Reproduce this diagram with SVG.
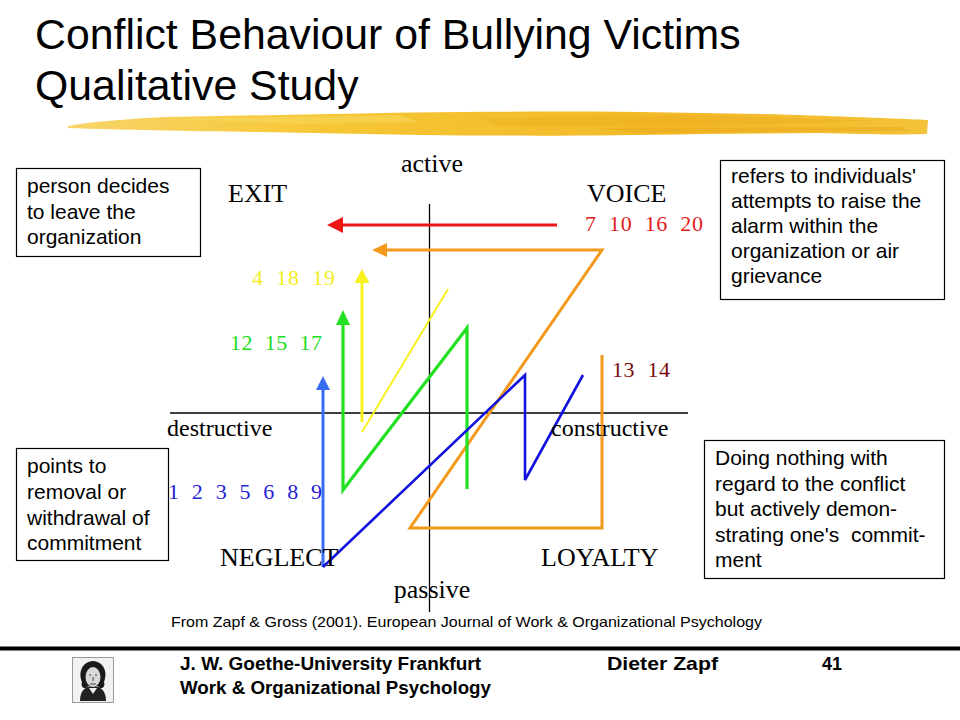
<svg xmlns="http://www.w3.org/2000/svg" width="960" height="720" viewBox="0 0 960 720">
<defs>
<style>
.title{font-family:"Liberation Sans",Arial,sans-serif;font-size:42.8px;fill:#000}
.box{fill:#fff;stroke:#000;stroke-width:1.2}
.bt{font-family:"Liberation Sans",Arial,sans-serif;font-size:21px;fill:#000}
.lab{font-family:"Liberation Serif","Times New Roman",serif;font-size:26px;fill:#000}
.lab2{font-family:"Liberation Serif","Times New Roman",serif;font-size:24px;fill:#000}
.num{font-family:"Liberation Serif","Times New Roman",serif;font-size:22px;white-space:pre}
.axis{stroke:#000;stroke-width:1.3;fill:none}
.ln{fill:none;stroke-linejoin:miter;stroke-linecap:butt}
.foot{font-family:"Liberation Sans",Arial,sans-serif;font-size:18.5px;font-weight:bold;fill:#000}
.note{font-family:"Liberation Sans",Arial,sans-serif;font-size:14.5px;fill:#000}
</style>
<linearGradient id="brush" x1="0" y1="0" x2="1" y2="0">
<stop offset="0" stop-color="#f8d56a"/>
<stop offset="0.3" stop-color="#f6c634"/>
<stop offset="0.7" stop-color="#f2b928"/>
<stop offset="1" stop-color="#f4c238"/>
</linearGradient>
<marker id="ah-red" markerUnits="userSpaceOnUse" markerWidth="16" markerHeight="16" refX="0" refY="8" orient="auto" overflow="visible">
<path d="M0,0 L16,8 L0,16 Z" fill="#ee1515"/>
</marker>
<marker id="ah-orange" markerUnits="userSpaceOnUse" markerWidth="15" markerHeight="14" refX="0" refY="7" orient="auto" overflow="visible">
<path d="M0,0 L15,7 L0,14 Z" fill="#f39a1c"/>
</marker>
<marker id="ah-yellow" markerUnits="userSpaceOnUse" markerWidth="14" markerHeight="15" refX="0" refY="7.5" orient="auto" overflow="visible">
<path d="M0,0 L14,7.5 L0,15 Z" fill="#f8f020"/>
</marker>
<marker id="ah-green" markerUnits="userSpaceOnUse" markerWidth="15" markerHeight="14" refX="0" refY="7" orient="auto" overflow="visible">
<path d="M0,0 L15,7 L0,14 Z" fill="#22e022"/>
</marker>
<marker id="ah-blue" markerUnits="userSpaceOnUse" markerWidth="14" markerHeight="14" refX="0" refY="7" orient="auto" overflow="visible">
<path d="M0,0 L14,7 L0,14 Z" fill="#3a6cf2"/>
</marker>
</defs>
<rect width="960" height="720" fill="#fff"/>

<g id="title">
<text class="title" x="35" y="49">Conflict Behaviour of Bullying Victims</text>
<text class="title" x="35" y="100">Qualitative Study</text>
</g>

<g id="brush-stroke">
<path d="M68,126 C95,121 130,119 165,117 L330,114 C420,112 520,111 640,112 L760,114 C830,116 880,118 928,120 L927,134 C890,135 860,134 820,133 L700,134 C600,136 520,136 420,135 L260,132 C190,131 120,130 68,128 Z" fill="url(#brush)"/>
<path d="M160,119 L400,115 L420,122 L300,124 Z" fill="#f8d75c" opacity="0.6"/>
<path d="M480,118 L700,115 L880,121 L700,126 L500,126 Z" fill="#eeae1e" opacity="0.45"/>
<path d="M600,128 L900,127 L910,131 L640,133 Z" fill="#e9a81a" opacity="0.5"/>
</g>

<g id="axes">
<path class="axis" d="M170,413 L688,413"/>
<path class="axis" d="M429.5,204 L429.5,612"/>
</g>

<g id="connectors">
<path class="ln" d="M557,225 L343,225" stroke="#ee1515" stroke-width="3.2" marker-end="url(#ah-red)"/>
<path class="ln" d="M602,355 L602,528 L410,528 L602,250 L387,250" stroke="#f39a1c" stroke-width="3" marker-end="url(#ah-orange)"/>
<path class="ln" d="M362,422 L362,283" stroke="#f8f020" stroke-width="3" marker-end="url(#ah-yellow)"/>
<path class="ln" d="M362,432 L448,289" stroke="#f8f020" stroke-width="2"/>
<path class="ln" d="M467,489 L467,328 L343,490 L343,325" stroke="#22e022" stroke-width="3.2" marker-end="url(#ah-green)"/>
<path class="ln" d="M323,567 L323,390" stroke="#3a6cf2" stroke-width="3" marker-end="url(#ah-blue)"/>
<path class="ln" d="M323,567 L525,375 L525,480 L583,375" stroke="#1212dc" stroke-width="2.6"/>
</g>

<g id="quadrant-labels">
<text class="lab" x="432" y="172" text-anchor="middle">active</text>
<text class="lab" x="432" y="598" text-anchor="middle">passive</text>
<text class="lab" x="228" y="202">EXIT</text>
<text class="lab" x="587" y="202">VOICE</text>
<text class="lab" x="220" y="566">NEGLECT</text>
<text class="lab" x="541" y="566">LOYALTY</text>
<text class="lab2" x="167" y="436">destructive</text>
<text class="lab2" x="551" y="436">constructive</text>
</g>

<g id="case-numbers">
<text class="num" x="585" y="231" fill="#e21a1a" textLength="118" lengthAdjust="spacing">7  10  16  20</text>
<text class="num" x="252" y="285" fill="#f2ee22" textLength="83" lengthAdjust="spacing">4  18  19</text>
<text class="num" x="230" y="350" fill="#22dd22" textLength="92" lengthAdjust="spacing">12  15  17</text>
<text class="num" x="612" y="377" fill="#7a0c0c" textLength="58" lengthAdjust="spacing">13  14</text>
<text class="num" x="168" y="499" fill="#2323d2" textLength="154" lengthAdjust="spacing">1  2  3  5  6  8  9</text>
</g>

<g id="box-exit">
<rect class="box" x="16.5" y="168.5" width="184" height="88"/>
<text class="bt" x="27" y="193">person decides</text>
<text class="bt" x="27" y="218.5">to leave the</text>
<text class="bt" x="27" y="244">organization</text>
</g>

<g id="box-voice">
<rect class="box" x="720.5" y="160.5" width="224" height="139"/>
<text class="bt" x="731" y="183">refers to individuals'</text>
<text class="bt" x="731" y="208">attempts to raise the</text>
<text class="bt" x="731" y="233">alarm within the</text>
<text class="bt" x="731" y="258">organization or air</text>
<text class="bt" x="731" y="283">grievance</text>
</g>

<g id="box-neglect">
<rect class="box" x="16.5" y="448.5" width="152" height="112"/>
<text class="bt" x="27" y="473">points to</text>
<text class="bt" x="27" y="499">removal or</text>
<text class="bt" x="27" y="525">withdrawal of</text>
<text class="bt" x="27" y="550">commitment</text>
</g>

<g id="box-loyalty">
<rect class="box" x="704.5" y="440.5" width="240" height="138"/>
<text class="bt" x="715" y="465">Doing nothing with</text>
<text class="bt" x="715" y="490.5">regard to the conflict</text>
<text class="bt" x="715" y="516">but actively demon-</text>
<text class="bt" x="715" y="541.5" style="white-space:pre">strating one's  commit-</text>
<text class="bt" x="715" y="567">ment</text>
</g>

<g id="source-note">
<text class="note" x="171" y="627" textLength="591" lengthAdjust="spacingAndGlyphs">From Zapf &amp; Gross (2001). European Journal of Work &amp; Organizational Psychology</text>
</g>

<g id="footer">
<rect x="0" y="646.5" width="960" height="4" fill="#000"/>
<g id="portrait">
<rect x="72.5" y="657.5" width="41" height="45" fill="#f2f2f2" stroke="#9a9a9a" stroke-width="1"/>
<path d="M80,701 C80,690 86,686 93,686 C100,686 106,690 106,701 Z" fill="#222"/>
<path d="M82,682 C78,672 82,662 93,661 C104,662 108,672 104,682 C106,688 100,690 98,686 L88,686 C86,690 80,688 82,682 Z" fill="#1a1a1a"/>
<ellipse cx="93" cy="677" rx="7.5" ry="10" fill="#d8d8d8"/>
<path d="M89,675 L91,675 M95,675 L97,675 M93,677 L93,681 M90,684 L96,684" stroke="#444" stroke-width="1"/>
<path d="M89,688 L93,694 L97,688 Z" fill="#eee"/>
</g>
<text class="foot" x="180" y="670" textLength="301" lengthAdjust="spacingAndGlyphs">J. W. Goethe-University  Frankfurt</text>
<text class="foot" x="180" y="694" textLength="311" lengthAdjust="spacingAndGlyphs">Work &amp; Organizational Psychology</text>
<text class="foot" x="607" y="670" textLength="111" lengthAdjust="spacingAndGlyphs">Dieter Zapf</text>
<text class="foot" x="822" y="670" textLength="20" lengthAdjust="spacingAndGlyphs">41</text>
</g>
</svg>
